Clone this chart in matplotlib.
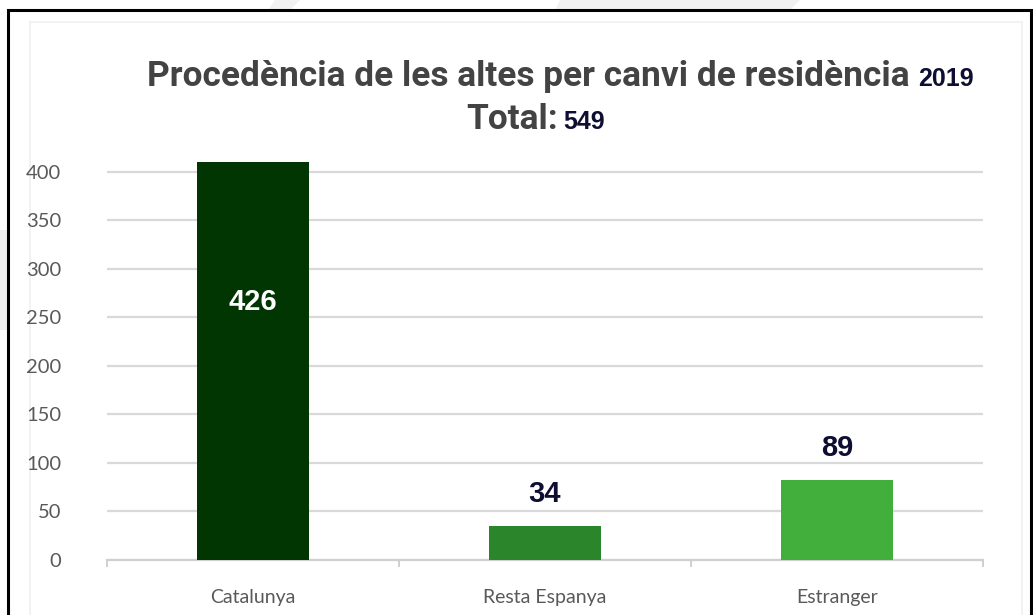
import matplotlib
matplotlib.use('Agg')
from matplotlib import pyplot as plt
from matplotlib.patches import Rectangle, Polygon

# data
categories = ['Catalunya', 'Resta Espanya', 'Estranger']
bar_heights = [410, 35, 82]          # drawn bar heights
bar_labels = ['426', '34', '89']     # printed values
bar_colors = ['#013501', '#2b862b', '#42ae3c']
yticks = [0, 50, 100, 150, 200, 250, 300, 350, 400]
title_text = 'Procedència de les altes per canvi de residència'
title_year = '2019'
total_text = 'Total:'
total_value = '549'

W, H = 1033, 615
fig = plt.figure(figsize=(W / 100, H / 100), dpi=100)
fig.patch.set_facecolor('white')

# faint watermark shapes behind the frame
for pts in ([(275, 0), (300, 0), (290, 10), (268, 10)],
            [(560, 0), (800, 0), (790, 10), (555, 10)],
            [(0, 230), (8, 230), (8, 330), (0, 330)]):
    fig.patches.append(Polygon([(x / W, 1 - y / H) for x, y in pts], closed=True,
                               transform=fig.transFigure, facecolor='#f1f1f1',
                               edgecolor='none', zorder=-2))

# black frame around the chart
fig.patches.append(Rectangle((8 / W, -0.02), (1031 - 8) / W, 1 - 10 / H + 0.02,
                             transform=fig.transFigure, fill=False,
                             edgecolor='black', linewidth=2.2, zorder=-1))
# faint chart area border
fig.patches.append(Rectangle((30 / W, -0.02), (1022 - 30) / W, 1 - 22 / H + 0.02,
                             transform=fig.transFigure, fill=False,
                             edgecolor='#f0f0f0', linewidth=1.2, zorder=-1))

ax = fig.add_axes([107 / W, (H - 560) / H, (983 - 107) / W, (560 - 157) / H])
ax.set_facecolor('none')
x = list(range(len(categories)))
ax.bar(x, bar_heights, width=0.385, color=bar_colors, zorder=3, clip_on=False)

ax.set_xlim(-0.5, 2.5)
ax.set_ylim(0, 415)
ax.set_yticks(yticks)
ax.set_yticklabels([str(v) for v in yticks])
ax.grid(axis='y', color='#d9d9d9', linewidth=1.6, zorder=0)
ax.set_axisbelow(True)
for s in ['top', 'right', 'left']:
    ax.spines[s].set_visible(False)
ax.spines['bottom'].set_color('#d0d0d0')
ax.spines['bottom'].set_linewidth(1.6)
ax.set_xticks(x)
ax.set_xticklabels(categories)
ax.set_xticks([-0.5, 0.5, 1.5, 2.5], minor=True)
ax.tick_params(axis='x', which='major', length=0, pad=21, labelsize=14,
               labelcolor='#595959')
ax.tick_params(axis='x', which='minor', length=5, width=1.4, color='#d0d0d0')
ax.tick_params(axis='y', length=0, pad=33, labelsize=14.5, labelcolor='#595959')
for lab in ax.get_xticklabels() + ax.get_yticklabels():
    lab.set_fontfamily('Lato')

# value labels
ax.text(x[0], 266, bar_labels[0], ha='center', va='center', color='white',
        fontsize=21, fontweight='bold', family='Liberation Sans', zorder=4)
for i in (1, 2):
    ax.annotate(bar_labels[i], (x[i], bar_heights[i]), xytext=(0, 13),
                textcoords='offset points', ha='center', va='bottom',
                color='#0e0e33', fontsize=21, fontweight='bold',
                family='Liberation Sans', zorder=4)

# titles
t1 = fig.text(147 / W, 1 - 86 / H, title_text, ha='left', va='baseline',
              fontsize=22, fontweight='bold', family='Roboto', color='#434343')
fig.canvas.draw()
r = fig.canvas.get_renderer()
bb = t1.get_window_extent(r)
t1.set_fontsize(22 * (910 - 147) / bb.width)
fig.canvas.draw()
bb = t1.get_window_extent(r)
fig.text(bb.x1 / W + 8 / W, 1 - 86 / H, title_year, ha='left', va='baseline',
         fontsize=18, fontweight='bold', family='Liberation Sans', color='#0e0e33')

t2 = fig.text(466 / W, 1 - 129 / H, total_text, ha='left', va='baseline',
              fontsize=t1.get_fontsize(), fontweight='bold', family='Roboto',
              color='#434343')
fig.canvas.draw()
bb2 = t2.get_window_extent(r)
fig.text(bb2.x1 / W + 6 / W, 1 - 129 / H, total_value, ha='left', va='baseline',
         fontsize=18, fontweight='bold', family='Liberation Sans', color='#0e0e33')

fig.savefig('out.png', dpi=100, facecolor='white')
